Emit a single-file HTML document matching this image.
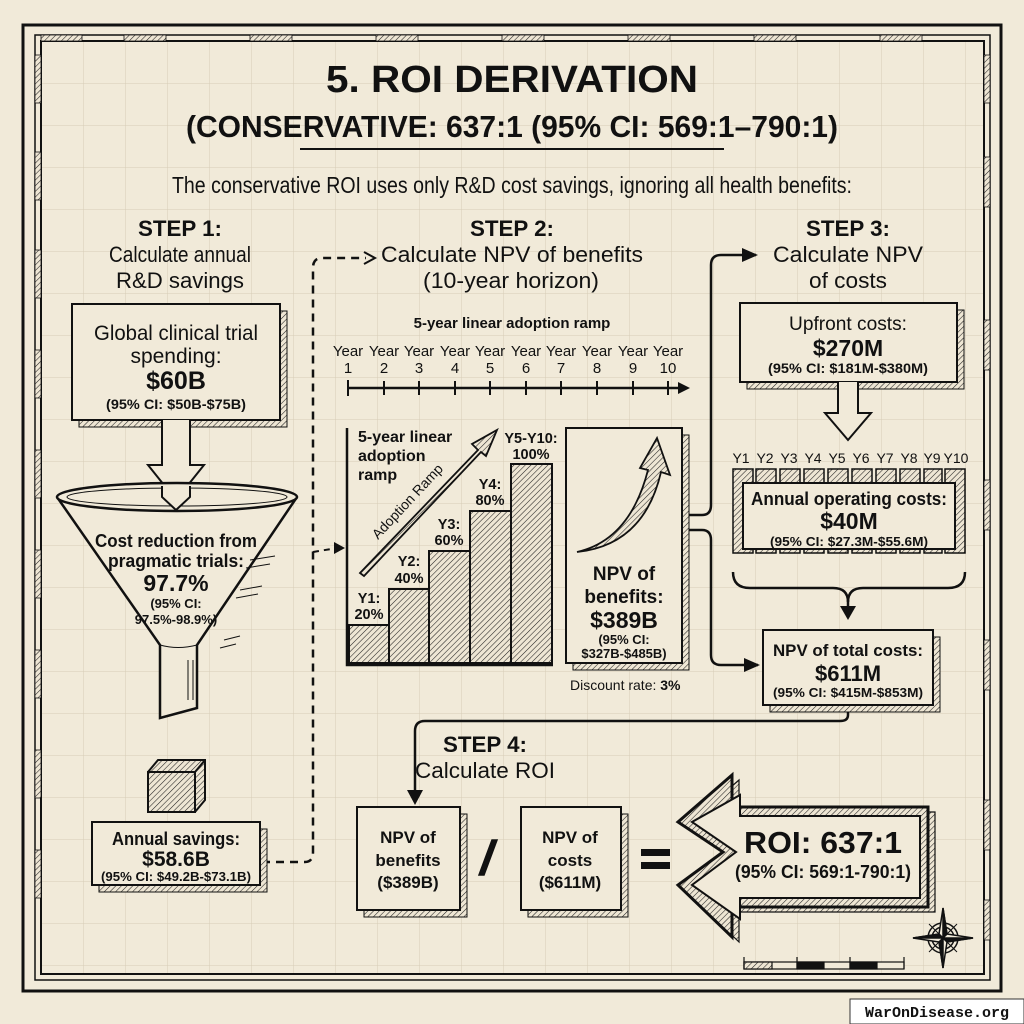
<!DOCTYPE html>
<html><head><meta charset="utf-8"><style>
html,body{margin:0;padding:0;background:#f1ead9;}
svg{display:block;}
text{font-family:"Liberation Sans Narrow","Liberation Sans",sans-serif;fill:#111;}
.b{font-weight:bold;}
</style></head><body>
<svg width="1024" height="1024" viewBox="0 0 1024 1024" xmlns="http://www.w3.org/2000/svg">
<defs>
<pattern id="h" width="4" height="4" patternUnits="userSpaceOnUse" patternTransform="rotate(45)">
<rect width="4" height="4" fill="#eee6d4"/><line x1="0" y1="0" x2="0" y2="4" stroke="#222" stroke-width="1.1"/></pattern>
<pattern id="g" width="42" height="42" patternUnits="userSpaceOnUse" x="0" y="0">
<path d="M42 0V42M0 42H42" fill="none" stroke="#d6ccb6" stroke-width="1"/></pattern>
<marker id="ah2" markerWidth="16" markerHeight="16" refX="14" refY="8" orient="auto" markerUnits="userSpaceOnUse">
<path d="M0 1L16 8L0 15z" fill="#111"/></marker>
</defs>
<rect width="1024" height="1024" fill="#f1ead9"/>
<rect x="41" y="41" width="943" height="933" fill="url(#g)"/>
<!-- borders -->
<rect x="23" y="25" width="978" height="966" fill="none" stroke="#111" stroke-width="3"/>
<rect x="35" y="35" width="955" height="945" fill="none" stroke="#111" stroke-width="1.5"/>
<rect x="41" y="41" width="943" height="933" fill="none" stroke="#111" stroke-width="2"/>
<g fill="url(#h)" stroke="#111" stroke-width="0.8">
<rect x="41" y="35" width="41" height="6"/><rect x="124" y="35" width="42" height="6"/><rect x="250" y="35" width="42" height="6"/><rect x="376" y="35" width="42" height="6"/><rect x="502" y="35" width="42" height="6"/><rect x="628" y="35" width="42" height="6"/><rect x="754" y="35" width="42" height="6"/><rect x="880" y="35" width="42" height="6"/>
<rect x="35" y="55" width="6" height="48"/><rect x="35" y="152" width="6" height="48"/><rect x="35" y="250" width="6" height="48"/><rect x="35" y="350" width="6" height="48"/><rect x="35" y="450" width="6" height="48"/><rect x="35" y="550" width="6" height="48"/><rect x="35" y="650" width="6" height="48"/><rect x="35" y="750" width="6" height="48"/><rect x="35" y="850" width="6" height="48"/>
<rect x="984" y="55" width="6" height="48"/><rect x="984" y="157" width="6" height="50"/><rect x="984" y="320" width="6" height="50"/><rect x="984" y="480" width="6" height="50"/><rect x="984" y="640" width="6" height="50"/><rect x="984" y="800" width="6" height="50"/><rect x="984" y="900" width="6" height="40"/>
</g>

<!-- Title -->
<text x="512" y="92" text-anchor="middle" class="b" font-size="38" textLength="372" lengthAdjust="spacingAndGlyphs">5. ROI DERIVATION</text>
<text x="512" y="137" text-anchor="middle" class="b" font-size="31" textLength="652" lengthAdjust="spacingAndGlyphs">(CONSERVATIVE: 637:1 (95% CI: 569:1–790:1)</text>
<line x1="300" y1="149" x2="724" y2="149" stroke="#111" stroke-width="2"/>
<text x="512" y="193" text-anchor="middle" font-size="23" textLength="680" lengthAdjust="spacingAndGlyphs">The conservative ROI uses only R&amp;D cost savings, ignoring all health benefits:</text>

<!-- step headers -->
<g font-size="22" text-anchor="middle">
<text x="180" y="236" class="b" textLength="84" lengthAdjust="spacingAndGlyphs">STEP 1:</text>
<text x="180" y="262" textLength="142" lengthAdjust="spacingAndGlyphs">Calculate annual</text>
<text x="180" y="288" textLength="128" lengthAdjust="spacingAndGlyphs">R&amp;D savings</text>
<text x="512" y="236" class="b" textLength="84" lengthAdjust="spacingAndGlyphs">STEP 2:</text>
<text x="512" y="262" textLength="262" lengthAdjust="spacingAndGlyphs">Calculate NPV of benefits</text>
<text x="511" y="288" textLength="176" lengthAdjust="spacingAndGlyphs">(10-year horizon)</text>
<text x="848" y="236" class="b" textLength="84" lengthAdjust="spacingAndGlyphs">STEP 3:</text>
<text x="848" y="262" textLength="150" lengthAdjust="spacingAndGlyphs">Calculate NPV</text>
<text x="848" y="288" textLength="78" lengthAdjust="spacingAndGlyphs">of costs</text>
<text x="485" y="752" class="b" textLength="84" lengthAdjust="spacingAndGlyphs">STEP 4:</text>
<text x="485" y="778" textLength="140" lengthAdjust="spacingAndGlyphs">Calculate ROI</text>
</g>

<!-- dashed connector step1 -> step2 -->
<path d="M262 862 H305 Q313 862 313 852 V268 Q313 258 322 258 H366" fill="none" stroke="#111" stroke-width="2.5" stroke-dasharray="8 6"/>
<path d="M364 252 L375 258 L364 264" fill="none" stroke="#111" stroke-width="2"/>
<path d="M313 552 L337 548" fill="none" stroke="#111" stroke-width="2" stroke-dasharray="6 5"/>
<path d="M334 542 L345 548 L334 554z" fill="#111"/>

<!-- Global box -->
<rect x="79" y="311" width="208" height="116" fill="url(#h)" stroke="#111" stroke-width="1"/>
<rect x="72" y="304" width="208" height="116" fill="#f1ead9" stroke="#111" stroke-width="2"/>
<text x="176" y="340" text-anchor="middle" font-size="21" textLength="164" lengthAdjust="spacingAndGlyphs">Global clinical trial</text>
<text x="176" y="363" text-anchor="middle" font-size="21">spending:</text>
<text x="176" y="389" text-anchor="middle" class="b" font-size="25">$60B</text>
<text x="176" y="409" text-anchor="middle" class="b" font-size="14" textLength="140" lengthAdjust="spacingAndGlyphs">(95% CI: $50B-$75B)</text>
<!-- hollow arrow -->
<path d="M162 420 V465 H148 L176 500 L204 465 H190 V420" fill="#f1ead9" stroke="#111" stroke-width="2"/>
<!-- funnel -->
<path d="M57 497 L160 645 V718 L197 708 V645 L297 497" fill="#f1ead9" stroke="#111" stroke-width="2.5"/>
<ellipse cx="177" cy="497" rx="120" ry="14" fill="#f1ead9" stroke="#111" stroke-width="2.5"/>
<ellipse cx="177" cy="497" rx="110" ry="9" fill="none" stroke="#111" stroke-width="1"/>
<path d="M162 486 V497 L176 510 L190 497 V486" fill="#f1ead9" stroke="#111" stroke-width="2"/>
<path d="M160 645 Q178 650 197 645" fill="none" stroke="#111" stroke-width="1"/>
<g stroke="#111" stroke-width="1">
<path d="M250 560 L275 556 M246 568 L270 564 M240 590 L262 586 M236 598 L258 594 M224 640 L240 636 M220 648 L236 644 M188 660 V700 M193 660 V700"/>
</g>
<text x="176" y="547" text-anchor="middle" class="b" font-size="18" textLength="162" lengthAdjust="spacingAndGlyphs">Cost reduction from</text>
<text x="176" y="567" text-anchor="middle" class="b" font-size="18" textLength="136" lengthAdjust="spacingAndGlyphs">pragmatic trials:</text>
<text x="176" y="591" text-anchor="middle" class="b" font-size="23">97.7%</text>
<text x="176" y="608" text-anchor="middle" class="b" font-size="13">(95% CI:</text>
<text x="176" y="624" text-anchor="middle" class="b" font-size="13">97.5%-98.9%)</text>
<!-- cube -->
<path d="M148 772 L158 760 H205 V800 L195 812" fill="url(#h)" stroke="#111" stroke-width="2"/>
<rect x="148" y="772" width="47" height="40" fill="url(#h)" stroke="#111" stroke-width="2"/>
<path d="M195 772 L205 760" stroke="#111" stroke-width="2"/>
<!-- annual savings -->
<rect x="99" y="829" width="168" height="63" fill="url(#h)" stroke="#111" stroke-width="1"/>
<rect x="92" y="822" width="168" height="63" fill="#f1ead9" stroke="#111" stroke-width="2"/>
<text x="176" y="845" text-anchor="middle" class="b" font-size="18" textLength="128" lengthAdjust="spacingAndGlyphs">Annual savings:</text>
<text x="176" y="866" text-anchor="middle" class="b" font-size="21">$58.6B</text>
<text x="176" y="881" text-anchor="middle" class="b" font-size="12.5" textLength="150" lengthAdjust="spacingAndGlyphs">(95% CI: $49.2B-$73.1B)</text>

<!-- timeline -->
<text x="512" y="328" text-anchor="middle" class="b" font-size="15">5-year linear adoption ramp</text>
<g font-size="15" text-anchor="middle">
<text x="348" y="356">Year</text><text x="384" y="356">Year</text><text x="419" y="356">Year</text><text x="455" y="356">Year</text><text x="490" y="356">Year</text><text x="526" y="356">Year</text><text x="561" y="356">Year</text><text x="597" y="356">Year</text><text x="633" y="356">Year</text><text x="668" y="356">Year</text>
<text x="348" y="373">1</text><text x="384" y="373">2</text><text x="419" y="373">3</text><text x="455" y="373">4</text><text x="490" y="373">5</text><text x="526" y="373">6</text><text x="561" y="373">7</text><text x="597" y="373">8</text><text x="633" y="373">9</text><text x="668" y="373">10</text>
</g>
<line x1="348" y1="388" x2="680" y2="388" stroke="#111" stroke-width="2.5"/>
<path d="M678 382 L690 388 L678 394z" fill="#111"/>
<g stroke="#111" stroke-width="2">
<line x1="348" y1="380" x2="348" y2="396"/><line x1="384" y1="381" x2="384" y2="395"/><line x1="419" y1="381" x2="419" y2="395"/><line x1="455" y1="381" x2="455" y2="395"/><line x1="490" y1="381" x2="490" y2="395"/><line x1="526" y1="381" x2="526" y2="395"/><line x1="561" y1="381" x2="561" y2="395"/><line x1="597" y1="381" x2="597" y2="395"/><line x1="633" y1="381" x2="633" y2="395"/><line x1="668" y1="381" x2="668" y2="395"/>
</g>

<!-- bar chart -->
<g fill="url(#h)" stroke="#111" stroke-width="2">
<rect x="349" y="625" width="40" height="38"/>
<rect x="389" y="589" width="40" height="74"/>
<rect x="429" y="551" width="41" height="112"/>
<rect x="470" y="511" width="41" height="152"/>
<rect x="511" y="464" width="41" height="199"/>
</g>
<path d="M347 428 V665 H553" fill="none" stroke="#111" stroke-width="2.5"/>
<g font-size="14.5" text-anchor="middle">
<text x="369" y="603" class="b">Y1:</text><text x="369" y="619" class="b">20%</text>
<text x="409" y="566" class="b">Y2:</text><text x="409" y="583" class="b">40%</text>
<text x="449" y="529" class="b">Y3:</text><text x="449" y="545" class="b">60%</text>
<text x="490" y="489" class="b">Y4:</text><text x="490" y="505" class="b">80%</text>
<text x="531" y="443" class="b">Y5-Y10:</text><text x="531" y="459" class="b">100%</text>
</g>
<g font-size="16">
<text x="358" y="442" class="b">5-year linear</text>
<text x="358" y="461" class="b">adoption</text>
<text x="358" y="480" class="b">ramp</text>
</g>
<path d="M360 573 L478 450 L472 444 L497 430 L486 456 L481 452 L364 576z" fill="url(#h)" stroke="#111" stroke-width="1.8"/>
<text transform="translate(378,540) rotate(-47)" font-size="14">Adoption Ramp</text>

<!-- NPV benefits box -->
<rect x="573" y="435" width="116" height="235" fill="url(#h)" stroke="#111" stroke-width="1"/>
<rect x="566" y="428" width="116" height="235" fill="#f1ead9" stroke="#111" stroke-width="2"/>
<path d="M577 552 Q630 540 648 470 L640 468 L657 438 L670 475 L661 472 Q644 545 577 552z" fill="url(#h)" stroke="#111" stroke-width="1.8"/>
<g text-anchor="middle">
<text x="624" y="580" font-size="19" class="b">NPV of</text>
<text x="624" y="603" font-size="19" class="b">benefits:</text>
<text x="624" y="628" font-size="23" class="b">$389B</text>
<text x="624" y="644" font-size="13" class="b">(95% CI:</text>
<text x="624" y="658" font-size="13" class="b">$327B-$485B)</text>
</g>
<text x="570" y="690" font-size="14">Discount rate: <tspan class="b">3%</tspan></text>

<!-- connectors to step 3 -->
<path d="M689 515 H702 Q711 515 711 505 V265 Q711 255 721 255 H756" fill="none" stroke="#111" stroke-width="2.5" marker-end="url(#ah2)"/>
<path d="M689 530 H702 Q711 530 711 540 V655 Q711 665 721 665 H758" fill="none" stroke="#111" stroke-width="2.5" marker-end="url(#ah2)"/>

<!-- upfront box -->
<rect x="747" y="310" width="217" height="79" fill="url(#h)" stroke="#111" stroke-width="1"/>
<rect x="740" y="303" width="217" height="79" fill="#f1ead9" stroke="#111" stroke-width="2"/>
<text x="848" y="330" text-anchor="middle" font-size="19" textLength="118" lengthAdjust="spacingAndGlyphs">Upfront costs:</text>
<text x="848" y="356" text-anchor="middle" class="b" font-size="23">$270M</text>
<text x="848" y="373" text-anchor="middle" class="b" font-size="13.5" textLength="160" lengthAdjust="spacingAndGlyphs">(95% CI: $181M-$380M)</text>
<path d="M838 382 V413 H825 L848 440 L871 413 H858 V382" fill="#f1ead9" stroke="#111" stroke-width="2"/>

<!-- Y labels & hatched years -->
<g font-size="14" text-anchor="middle">
<text x="741" y="463">Y1</text><text x="765" y="463">Y2</text><text x="789" y="463">Y3</text><text x="813" y="463">Y4</text><text x="837" y="463">Y5</text><text x="861" y="463">Y6</text><text x="885" y="463">Y7</text><text x="909" y="463">Y8</text><text x="932" y="463">Y9</text><text x="956" y="463">Y10</text>
</g>
<g fill="url(#h)" stroke="#111" stroke-width="1.5">
<rect x="733" y="469" width="20" height="84"/>
<rect x="756" y="469" width="20" height="84"/><rect x="780" y="469" width="20" height="84"/><rect x="804" y="469" width="20" height="84"/><rect x="828" y="469" width="20" height="84"/><rect x="852" y="469" width="20" height="84"/><rect x="876" y="469" width="20" height="84"/><rect x="900" y="469" width="20" height="84"/><rect x="924" y="469" width="18" height="84"/><rect x="945" y="469" width="20" height="84"/>
</g>
<rect x="743" y="483" width="212" height="66" fill="#f1ead9" stroke="#111" stroke-width="2"/>
<text x="849" y="505" text-anchor="middle" class="b" font-size="18" textLength="196" lengthAdjust="spacingAndGlyphs">Annual operating costs:</text>
<text x="849" y="529" text-anchor="middle" class="b" font-size="23">$40M</text>
<text x="849" y="546" text-anchor="middle" class="b" font-size="13" textLength="158" lengthAdjust="spacingAndGlyphs">(95% CI: $27.3M-$55.6M)</text>
<path d="M733 572 Q733 588 750 588 H833 Q848 588 848 602 Q848 588 863 588 H948 Q965 588 965 572" fill="none" stroke="#111" stroke-width="2.5"/>
<path d="M848 600 V612" stroke="#111" stroke-width="2.5"/>
<path d="M840 606 L848 620 L856 606z" fill="#111"/>

<!-- NPV total costs -->
<rect x="770" y="637" width="170" height="75" fill="url(#h)" stroke="#111" stroke-width="1"/>
<rect x="763" y="630" width="170" height="75" fill="#f1ead9" stroke="#111" stroke-width="2"/>
<text x="848" y="656" text-anchor="middle" class="b" font-size="17" textLength="150" lengthAdjust="spacingAndGlyphs">NPV of total costs:</text>
<text x="848" y="681" text-anchor="middle" class="b" font-size="22">$611M</text>
<text x="848" y="697" text-anchor="middle" class="b" font-size="13" textLength="150" lengthAdjust="spacingAndGlyphs">(95% CI: $415M-$853M)</text>

<!-- connector to step 4 -->
<path d="M848 712 V715 Q848 721 840 721 H425 Q415 721 415 731 V795" fill="none" stroke="#111" stroke-width="2.5"/>
<path d="M407 790 L415 805 L423 790z" fill="#111"/>

<!-- step 4 boxes -->
<rect x="364" y="814" width="103" height="103" fill="url(#h)" stroke="#111" stroke-width="1"/>
<rect x="357" y="807" width="103" height="103" fill="#f1ead9" stroke="#111" stroke-width="2"/>
<g font-size="17" text-anchor="middle">
<text x="408" y="843" class="b">NPV of</text><text x="408" y="866" class="b">benefits</text><text x="408" y="888" class="b">($389B)</text>
</g>
<path d="M484 875 L497 840 L492 840 L479 875z" fill="#111" stroke="#111" stroke-width="1.5"/>
<rect x="528" y="814" width="100" height="103" fill="url(#h)" stroke="#111" stroke-width="1"/>
<rect x="521" y="807" width="100" height="103" fill="#f1ead9" stroke="#111" stroke-width="2"/>
<g font-size="17" text-anchor="middle">
<text x="570" y="843" class="b">NPV of</text><text x="570" y="866" class="b">costs</text><text x="570" y="888" class="b">($611M)</text>
</g>
<rect x="641" y="849" width="29" height="7" fill="#111"/><rect x="641" y="862" width="29" height="7" fill="#111"/>

<!-- ROI arrow -->
<path d="M732 775 V807 H928 V907 H732 V937 L678 885 L723 852 L678 822z" fill="url(#h)" stroke="#111" stroke-width="1.2" transform="translate(7,5)"/>
<path d="M732 775 V807 H928 V907 H732 V937 L678 885 L723 852 L678 822z" fill="url(#h)" stroke="#111" stroke-width="3"/>
<path d="M740 795 V816 H920 V898 H740 V919 L692 885 L736 852 L692 822z" fill="#f1ead9" stroke="#111" stroke-width="2"/>
<text x="823" y="853" text-anchor="middle" class="b" font-size="31" textLength="158" lengthAdjust="spacingAndGlyphs">ROI: 637:1</text>
<text x="823" y="878" text-anchor="middle" class="b" font-size="18" textLength="176" lengthAdjust="spacingAndGlyphs">(95% CI: 569:1-790:1)</text>

<!-- compass -->
<g transform="translate(943,938)" stroke="#111" fill="none" stroke-width="1.5">
<circle r="15"/><circle r="11"/>
<path d="M0 -30 L4 -4 L30 0 L4 4 L0 30 L-4 4 L-30 0 L-4 -4z" fill="#f1ead9"/>
<path d="M0 -30 L4 -4 L0 0z M30 0 L4 4 L0 0z M0 30 L-4 4 L0 0z M-30 0 L-4 -4 L0 0z" fill="#111"/>
<path d="M-14 -14 L14 14 M14 -14 L-14 14" stroke-width="1"/>
</g>
<!-- scale bar -->
<g stroke="#111" stroke-width="1.2">
<rect x="744" y="962" width="160" height="7" fill="#f1ead9"/>
<rect x="744" y="962" width="28" height="7" fill="url(#h)"/>
<rect x="797" y="962" width="27" height="7" fill="#111"/>
<rect x="850" y="962" width="27" height="7" fill="#111"/>
<line x1="744" y1="957" x2="744" y2="969"/><line x1="797" y1="957" x2="797" y2="969"/><line x1="850" y1="957" x2="850" y2="969"/><line x1="904" y1="957" x2="904" y2="969"/>
</g>

<!-- watermark -->
<rect x="850" y="999" width="174" height="25" fill="#fff" stroke="#333" stroke-width="1"/>
<text x="937" y="1017" text-anchor="middle" font-size="15" class="b" style="font-family:'Liberation Mono',monospace">WarOnDisease.org</text>
</svg>
</body></html>
